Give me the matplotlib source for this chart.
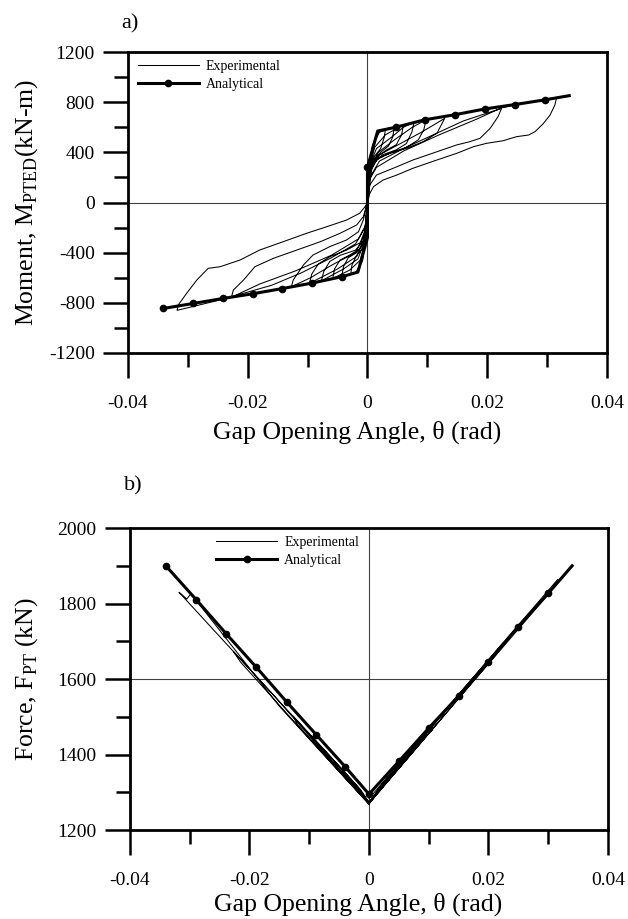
import matplotlib
matplotlib.use('Agg')
import matplotlib.pyplot as plt
from matplotlib.ticker import MultipleLocator

plt.rcParams['font.family'] = ['Liberation Serif', 'DejaVu Serif']
plt.rcParams['mathtext.fontset'] = 'custom'
plt.rcParams['mathtext.rm'] = 'Liberation Serif'
plt.rcParams['axes.unicode_minus'] = False

# ---- panel a: moment vs gap opening angle ----
# experimental history, one continuous path (cycles of growing amplitude)
exp_a_theta = [
    0, 0.0002, 0.0008, 0.0018, 0.0030, 0.0028, 0.0022, 0.0012, 0.0005, 0.0001, 0,
    -0.0002, -0.0008, -0.0018, -0.0028, -0.0026, -0.0018, -0.0008, -0.0003, 0,
    0.0003, 0.0010, 0.0020, 0.0045, 0.0042, 0.0035, 0.0022, 0.0010, 0.0003, 0,
    -0.0003, -0.0010, -0.0020, -0.0043, -0.0040, -0.0032, -0.0018, -0.0007, -0.0002, 0,
    0.0003, 0.0012, 0.0030, 0.0060, 0.0057, 0.0048, 0.0032, 0.0015, 0.0004, 0,
    -0.0003, -0.0012, -0.0030, -0.0058, -0.0055, -0.0046, -0.0030, -0.0013, -0.0004, 0,
    0.0004, 0.0015, 0.0040, 0.0060, 0.0078, 0.0074, 0.0065, 0.0048, 0.0025, 0.0008, 0,
    -0.0004, -0.0016, -0.0040, -0.0077, -0.0073, -0.0063, -0.0045, -0.0020, -0.0006, 0,
    0.0004, 0.0018, 0.0045, 0.0075, 0.0098, 0.0094, 0.0085, 0.0065, 0.0040, 0.0015, 0.0004, 0,
    -0.0004, -0.0018, -0.0050, -0.0097, -0.0093, -0.0082, -0.0062, -0.0035, -0.0012, -0.0004, 0,
    0.0004, 0.0020, 0.0055, 0.0090, 0.0129, 0.0116, 0.0093, 0.0065, 0.0038, 0.0015, 0.0004, 0.0001, 0,
    -0.0004, -0.0020, -0.0060, -0.0095, -0.0127, -0.0124, -0.0107, -0.0091, -0.0063, -0.0035,
    -0.0015, -0.0007, 0,
    0.0004, 0.0020, 0.0060, 0.0110, 0.0160, 0.0224, 0.0218, 0.0205, 0.0188, 0.0171, 0.0149,
    0.0116, 0.0076, 0.0043, 0.0015, 0.0004, 0,
    -0.0004, -0.0020, -0.0060, -0.0110, -0.0160, -0.0227, -0.0224, -0.0207, -0.0188, -0.0157,
    -0.0118, -0.0079, -0.0046, -0.0018, -0.0007, 0,
    0.0003, 0.0015, 0.0060, 0.0120, 0.0180, 0.0224, 0.0270, 0.0316, 0.0313, 0.0305, 0.0294,
    0.0280, 0.0269, 0.0249, 0.0227, 0.0199, 0.0177, 0.0149, 0.0116, 0.0076, 0.0049, 0.0026,
    0.0010, 0.0004, 0,
    -0.0003, -0.0015, -0.0060, -0.0120, -0.0180, -0.0227, -0.0270, -0.0318, -0.0316, -0.0302,
    -0.0285, -0.0266, -0.0246, -0.0213, -0.0180, -0.0141, -0.0102, -0.0068, -0.0035, -0.0013,
    -0.0004, 0,
]
exp_a_moment = [
    0, 250, 450, 560, 585, 520, 430, 370, 300, 120, 0,
    -280, -460, -560, -575, -500, -420, -370, -280, 0,
    300, 470, 560, 600, 520, 450, 400, 340, 250, 0,
    -320, -480, -560, -590, -510, -440, -400, -330, -200, 0,
    280, 440, 540, 620, 540, 460, 420, 360, 260, 0,
    -300, -460, -540, -605, -530, -460, -420, -370, -270, 0,
    300, 430, 520, 600, 640, 560, 470, 420, 380, 300, 0,
    -300, -450, -530, -625, -550, -470, -420, -380, -300, 0,
    270, 400, 500, 600, 660, 580, 500, 440, 400, 340, 240, 0,
    -280, -430, -530, -645, -570, -490, -430, -380, -320, -220, 0,
    240, 380, 470, 560, 671, 552, 485, 432, 392, 352, 285, 120, 0,
    -250, -400, -500, -600, -671, -618, -498, -419, -352, -299,
    -233, -140, 0,
    200, 330, 430, 540, 650, 751, 684, 592, 512, 485, 459,
    405, 339, 273, 219, 140, 0,
    -200, -330, -440, -560, -660, -751, -698, -618, -512, -445,
    -379, -313, -246, -179, -113, 0,
    180, 280, 410, 540, 660, 755, 800, 839, 777, 698, 631,
    565, 538, 525, 493, 472, 445, 392, 339, 273, 219, 179,
    126, 73, 0,
    -180, -290, -420, -545, -650, -755, -805, -860, -817, -724,
    -618, -525, -512, -459, -379, -313, -246, -193, -140, -86,
    -33, 0,
]

ana_a_theta = [-0.0341, -0.0291, -0.0241, -0.0192, -0.0142, -0.0092, -0.0043, -0.0016,
               0.0, 0.0, 0.0, 0.0017, 0.0047, 0.0096, 0.0146, 0.0196, 0.0246, 0.0297, 0.0337]
ana_a_moment = [-845, -805, -765, -728, -686, -642, -592, -555,
                -280, 0, 280, 570, 600, 660, 700, 746, 781, 819, 852]
ana_a_marks = [0, 1, 2, 3, 4, 5, 6, 10, 12, 13, 14, 15, 16, 17]

# ---- panel b: post-tensioning force vs gap opening angle ----
exp_b_theta = [
    0, 0.0015, 0.0030, 0.0028, 0.0013, 0,
    -0.0014, -0.0028, -0.0026, -0.0012, 0,
    0.0022, 0.0045, 0.0042, 0.0020, 0,
    -0.0021, -0.0043, -0.0040, -0.0019, 0,
    0.0030, 0.0060, 0.0056, 0.0028, 0,
    -0.0029, -0.0058, -0.0054, -0.0027, 0,
    0.0039, 0.0078, 0.0073, 0.0036, 0,
    -0.0038, -0.0077, -0.0072, -0.0035, 0,
    0.0049, 0.0098, 0.0092, 0.0046, 0,
    -0.0048, -0.0097, -0.0091, -0.0045, 0,
    0.0064, 0.0129, 0.0121, 0.0060, 0,
    -0.0063, -0.0127, -0.0120, -0.0060, 0,
    0.0112, 0.0224, 0.0212, 0.0106, 0,
    -0.0113, -0.0227, -0.0215, -0.0107, 0,
    0.0158, 0.0316, 0.0302, 0.0150, 0,
    -0.0159, -0.0318, -0.0312, -0.0305, -0.0298, -0.0150, 0,
]
exp_b_force = [
    1283, 1311, 1338, 1324, 1296, 1273,
    1307, 1331, 1318, 1291, 1272,
    1323, 1366, 1350, 1309, 1273,
    1319, 1357, 1341, 1303, 1271,
    1338, 1393, 1375, 1324, 1273,
    1333, 1383, 1363, 1316, 1271,
    1355, 1426, 1406, 1338, 1273,
    1348, 1415, 1396, 1330, 1271,
    1373, 1463, 1441, 1357, 1272,
    1366, 1450, 1430, 1348, 1270,
    1401, 1520, 1495, 1382, 1272,
    1392, 1502, 1480, 1373, 1270,
    1489, 1695, 1664, 1467, 1271,
    1477, 1673, 1645, 1455, 1269,
    1574, 1864, 1828, 1548, 1270,
    1556, 1830, 1822, 1812, 1826, 1528, 1268,
]

ana_b_theta = [-0.0340, -0.0289, -0.0239, -0.0189, -0.0137, -0.0088, -0.0040, 0.0,
               0.0050, 0.0100, 0.0150, 0.0200, 0.0250, 0.0300, 0.0340]
ana_b_force = [1900, 1810, 1720, 1632, 1538, 1452, 1368, 1295,
               1382, 1470, 1555, 1646, 1739, 1827, 1900]
ana_b_marks = list(range(14))

x_ticks = [-0.04, -0.02, 0, 0.02, 0.04]
x_labels = ['-0.04', '-0.02', '0', '0.02', '0.04']
a_ticks = [-1200, -800, -400, 0, 400, 800, 1200]
b_ticks = [1200, 1400, 1600, 1800, 2000]


def frame(ax, yticks, yminor):
    for s in ax.spines.values():
        s.set_linewidth(2.0)
    ax.set_xlim(-0.04, 0.04)
    ax.set_xticks(x_ticks)
    ax.set_xticklabels(x_labels)
    ax.xaxis.set_minor_locator(MultipleLocator(0.01))
    ax.set_yticks(yticks)
    ax.set_yticklabels([str(v) for v in yticks])
    ax.yaxis.set_minor_locator(MultipleLocator(yminor))
    ax.tick_params(which='both', direction='out', width=1.8, top=False, right=False)
    ax.tick_params(which='major', length=18, labelsize=14)
    ax.tick_params(axis='x', which='major', pad=12)
    ax.tick_params(axis='y', which='major', pad=6)
    ax.tick_params(which='minor', length=10)


fig = plt.figure(figsize=(6.28, 9.19), dpi=100)
ax1 = fig.add_axes([0.2038, 0.6159, 0.7627, 0.3275])
ax2 = fig.add_axes([0.2070, 0.0968, 0.7611, 0.3286])

# panel a
ax1.axhline(0, color='0.25', lw=0.8, zorder=1)
ax1.axvline(0, color='0.25', lw=0.8, zorder=1)
ax1.plot(exp_a_theta, exp_a_moment, color='black', lw=0.75, label='Experimental', zorder=2)
ax1.plot(ana_a_theta, ana_a_moment, color='black', lw=2.2, marker='o', ms=4.5,
         markevery=ana_a_marks, label='Analytical', zorder=3)
ax1.set_ylim(-1200, 1200)
frame(ax1, a_ticks, 200)
ax1.set_xlabel(r'Gap Opening Angle, θ (rad)', fontsize=18.5)
ax1.xaxis.set_label_coords(0.478, -0.225)
ax1.set_ylabel(r'Moment, M$_{\mathrm{PTED}}$(kN-m)', fontsize=18.5)
ax1.yaxis.set_label_coords(-0.184, 0.5)
ax1.legend(loc='upper left', bbox_to_anchor=(0.02, 0.975), frameon=False, fontsize=10,
           handlelength=4.4, handletextpad=0.5, labelspacing=0.4, borderpad=0,
           borderaxespad=0)
fig.text(0.207, 0.985, 'a)', fontsize=16, ha='center', va='top')

# panel b
ax2.axhline(1600, color='0.25', lw=0.8, zorder=1)
ax2.axvline(0, color='0.25', lw=0.8, zorder=1)
ax2.plot(exp_b_theta, exp_b_force, color='black', lw=0.75, label='Experimental', zorder=2)
ax2.plot(ana_b_theta, ana_b_force, color='black', lw=2.2, marker='o', ms=4.5,
         markevery=ana_b_marks, label='Analytical', zorder=3)
ax2.set_ylim(1200, 2000)
frame(ax2, b_ticks, 100)
ax2.set_xlabel(r'Gap Opening Angle, θ (rad)', fontsize=18.5)
ax2.xaxis.set_label_coords(0.478, -0.208)
ax2.set_ylabel(r'Force, F$_{\mathrm{PT}}$ (kN)', fontsize=18.5)
ax2.yaxis.set_label_coords(-0.188, 0.5)
ax2.legend(loc='upper left', bbox_to_anchor=(0.18, 0.975), frameon=False, fontsize=10,
           handlelength=4.4, handletextpad=0.5, labelspacing=0.4, borderpad=0,
           borderaxespad=0)
fig.text(0.212, 0.482, 'b)', fontsize=16, ha='center', va='top')

fig.savefig('out.png', dpi=100)
